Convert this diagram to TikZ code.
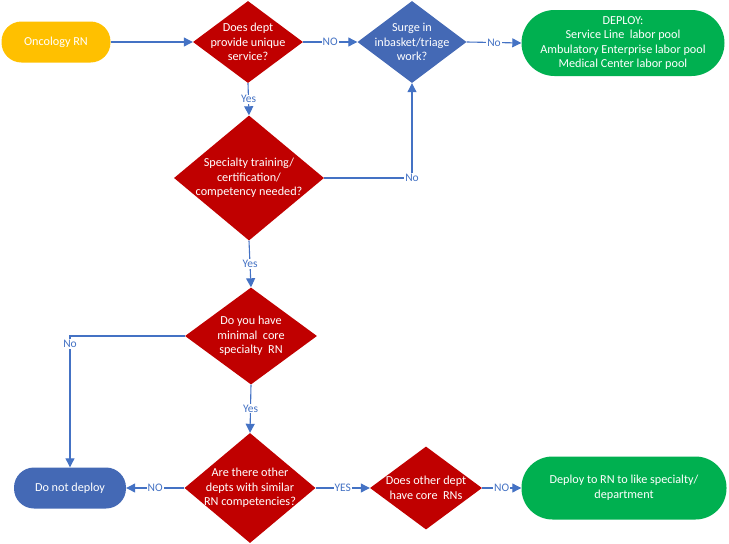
\documentclass[tikz,border=0pt]{standalone}
\usepackage{fontspec}
\setmainfont{Carlito}
\usetikzlibrary{shapes.geometric,arrows.meta}
\definecolor{lblue}{HTML}{4472C4}
\definecolor{dblue}{HTML}{4469B5}
\definecolor{dred}{HTML}{C00000}
\definecolor{gold}{HTML}{FFC000}
\definecolor{dgreen}{HTML}{00B050}
\tikzset{
  txt/.style={font=\fontsize{12.2}{14.6}\selectfont, text=white, align=center},
  stadium/.style={txt, draw=none, rectangle, rounded corners=#1, inner sep=2pt},
  dia/.style={diamond, draw=none, inner sep=0pt, aspect=1},
  conn/.style={draw=lblue, line width=1.1pt, -{Triangle[length=9pt,width=9pt]}},
  lbl/.style={font=\fontsize{11.5}{13}\selectfont, text=lblue, fill=white, inner sep=1pt}
}
\begin{document}
\begin{tikzpicture}[x=1pt,y=-1pt]
\useasboundingbox (0,0) rectangle (729,544);
% nodes
\node[stadium=20pt, fill=gold, minimum width=109pt, minimum height=41pt] (onc) at (56,42) {Oncology RN};
\node[dia, fill=dred, minimum width=110pt, minimum height=82pt,
  label={[txt]center:{Does dept\\provide unique\\service?}}] (d1) at (248,42) {};
\node[dia, fill=dblue, minimum width=109pt, minimum height=82pt,
  label={[txt]center:{Surge in\\inbasket/triage\\work?}}] (d2) at (412,42) {};
\node[stadium=33pt, fill=dgreen, minimum width=203pt, minimum height=66pt] (dep1) at (623,43) {DEPLOY:\\Service Line~ labor pool\\Ambulatory Enterprise labor pool\\Medical Center labor pool};
\node[dia, fill=dred, minimum width=150pt, minimum height=125pt,
  label={[txt]center:{Specialty training/\\certification/\\competency needed?}}] (d3) at (249,178) {};
\node[dia, fill=dred, minimum width=132pt, minimum height=97pt,
  label={[txt]center:{Do you have\\minimal~ core\\specialty~ RN}}] (d4) at (251,336) {};
\node[stadium=20pt, fill=dblue, minimum width=112pt, minimum height=41pt] (nodep) at (70,488) {Do not deploy};
\node[dia, fill=dred, minimum width=131pt, minimum height=110pt,
  label={[txt]center:{Are there other\\depts with similar\\RN competencies?}}] (d5) at (250,488) {};
\node[dia, fill=dred, minimum width=112pt, minimum height=83pt,
  label={[txt]center:{Does other dept\\have core~ RNs}}] (d6) at (426,488) {};
\node[stadium=31pt, fill=dgreen, minimum width=205pt, minimum height=63pt] (dep2) at (624,488) {Deploy to RN to like specialty/\\department};
% connectors
\draw[conn] (onc.east) -- (d1.west);
\draw[conn] (d1.east) -- node[lbl]{NO} (d2.west);
\draw[conn] (d2.east) -- node[lbl]{No} (dep1.west);
\draw[conn] (d1.south) -- node[lbl]{Yes} (d3.north);
\draw[conn] (d3.east) -| node[lbl, pos=0.5]{No} (d2.south);
\draw[conn] (d3.south) -- node[lbl]{Yes} (d4.north);
\draw[conn] (d4.west) -| node[lbl, pos=0.5, yshift=-8pt]{No} (nodep.north);
\draw[conn] (d4.south) -- node[lbl]{Yes} (d5.north);
\draw[conn] (d5.west) -- node[lbl]{NO} (nodep.east);
\draw[conn] (d5.east) -- node[lbl]{YES} (d6.west);
\draw[conn] (d6.east) -- node[lbl]{NO} (dep2.west);
\end{tikzpicture}
\end{document}
